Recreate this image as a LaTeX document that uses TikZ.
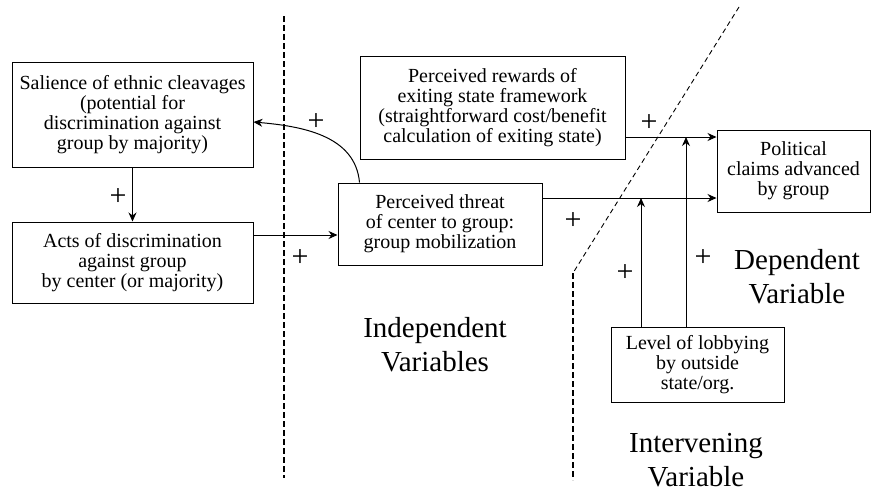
\documentclass[tikz,border=0pt]{standalone}
\usepackage{fontspec}
\usepackage{tikz}
\setmainfont{Liberation Serif}
\usetikzlibrary{arrows.meta}
\usetikzlibrary{positioning}
\tikzset{box/.style = {draw, line width=1pt, align=center, inner sep=0pt,
                       font=\fontsize{20}{20}\selectfont},
         plus/.style = {inner sep=0pt, font=\fontsize{30}{30}\selectfont},
         heading/.style = {align=center, inner sep=0pt,
                           font=\fontsize{29}{34}\selectfont},
         border/.style = {line width=2.2pt, dash pattern=on 6pt off 3pt},
         slant/.style = {line width=0.9pt, dash pattern=on 5pt off 3.5pt}}

\begin{document}
\begin{tikzpicture}[x=1pt, y=-1pt, line width=1pt,
                    >={Stealth[length=9pt, width=8pt]}]
    \useasboundingbox (0,0) rectangle (872,491);

    \node [box, minimum width=241pt, minimum height=105pt] (salience) at (132.5,114.5)
      {Salience of ethnic cleavages\\(potential for\\discrimination against\\group by majority)};
    \node [box, minimum width=241pt, minimum height=81pt] (acts) at (132.5,262.5)
      {Acts of discrimination\\against group\\by center (or majority)};
    \node [box, minimum width=265pt, minimum height=103pt] (rewards) at (492.5,107.5)
      {Perceived rewards of\\exiting state framework\\(straightforward cost/benefit\\calculation of exiting state)};
    \node [box, minimum width=204pt, minimum height=82pt] (threat) at (440,224)
      {Perceived threat\\of center to group:\\group mobilization};
    \node [box, minimum width=153pt, minimum height=82pt] (claims) at (793.5,171)
      {Political\\claims advanced\\by group};
    \node [box, minimum width=173pt, minimum height=75pt] (lobby) at (697.5,364.5)
      {Level of lobbying\\by outside\\state/org.};

    \node [heading] (indep) at (435,345) {Independent\\Variables};
    \node [heading] (dep) at (797,277) {Dependent\\Variable};
    \node [heading] (interv) at (696,460) {Intervening\\Variable};

    \draw [border] (284,16) -- (284,478);
    \coordinate (kink) at (573,273);
    \draw [slant] (739,7) -- (kink);
    \draw [border] (kink) -- (573,480);

    \draw [->] (salience) -- (acts);
    \draw [->] (acts.east |- 0,235) -- (threat.west |- 0,235);
    \draw [->] ([xshift=22pt]threat.north west) to [out=95, in=-5] (salience.east |- 0,122);

    \coordinate (topin) at (claims.west |- 0,137);
    \coordinate (lowin) at (claims.west |- 0,198);
    \draw [->] (rewards.east |- topin) -- (topin);
    \draw [->] (threat.east |- lowin) -- (lowin);

    \coordinate (lowhit) at (641,198);
    \coordinate (tophit) at (686,137);
    \draw [->] (lobby.north -| lowhit) -- (lowhit);
    \draw [->] (lobby.north -| tophit) -- (tophit);

    \foreach \px/\py [count=\i] in {118/197, 316/122, 300/258, 573/221, 649/123, 625/273, 703/258} {
      \node [plus] (plus\i) at (\px,\py) {+};
    }
\end{tikzpicture}
\end{document}
